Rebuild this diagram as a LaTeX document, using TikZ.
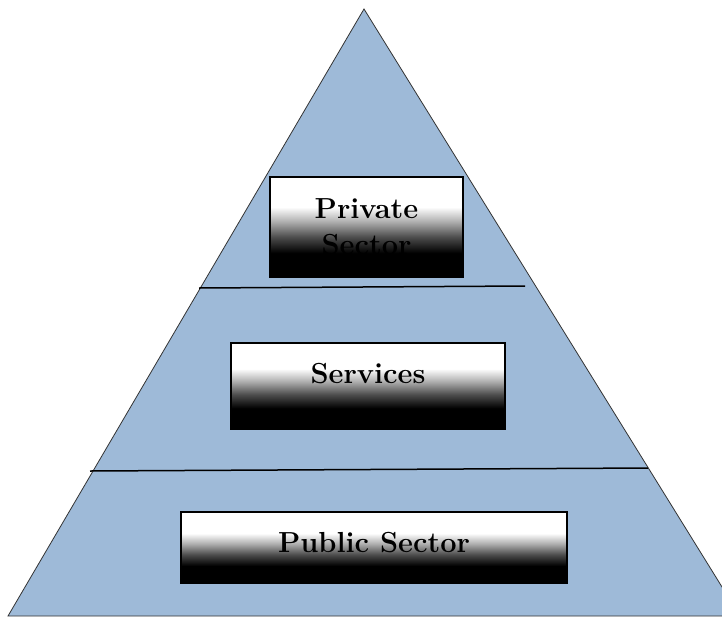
\documentclass[tikz,border=0pt]{standalone}
\usepackage{tikz}
\usetikzlibrary{arrows}
\usetikzlibrary{shapes}
\definecolor{pyrblue}{RGB}{158,186,216}
\pgfdeclareverticalshading{tiershade}{100bp}{color(0bp)=(black); color(37bp)=(black);
    color(45bp)=(black!70); color(53bp)=(black!30); color(60bp)=(white); color(100bp)=(white)}
\tikzstyle{tier} = [rectangle, draw, line width=1.2pt, shading=tiershade,
    inner sep=0pt, align=center, font=\fontsize{29}{36}\selectfont\bfseries]

\begin{document}
\begin{tikzpicture}[x=1pt,y=-1pt]
  \useasboundingbox (0,0) rectangle (722,616);

  % pyramid
  \coordinate (apex)  at (364,9);
  \coordinate (baseL) at (8,616);
  \coordinate (baseR) at (740,616);
  \begin{scope}
    \clip (0,0) rectangle (722,616);
    \filldraw[fill=pyrblue, draw=black!80, line width=0.8pt]
      (apex) -- (baseL) -- (baseR) -- cycle;
  \end{scope}

  % dividers
  \coordinate (upL)  at (199,288);
  \coordinate (upR)  at (525,286);
  \coordinate (lowL) at (90,471);
  \coordinate (lowR) at (648,468);
  \draw[line width=1.5pt] (upL) -- (upR);
  \draw[line width=1.5pt] (lowL) -- (lowR);

  \node[tier, minimum width=193pt, minimum height=100pt]
    (private) at (366.5,227) {Private\\Sector};
  \node[tier, minimum width=274pt, minimum height=86pt, text depth=26pt]
    (services) at (368,386) {Services};
  \node[tier, minimum width=386pt, minimum height=71pt, text depth=10pt]
    (public) at (374,547.5) {Public Sector};
\end{tikzpicture}
\end{document}
